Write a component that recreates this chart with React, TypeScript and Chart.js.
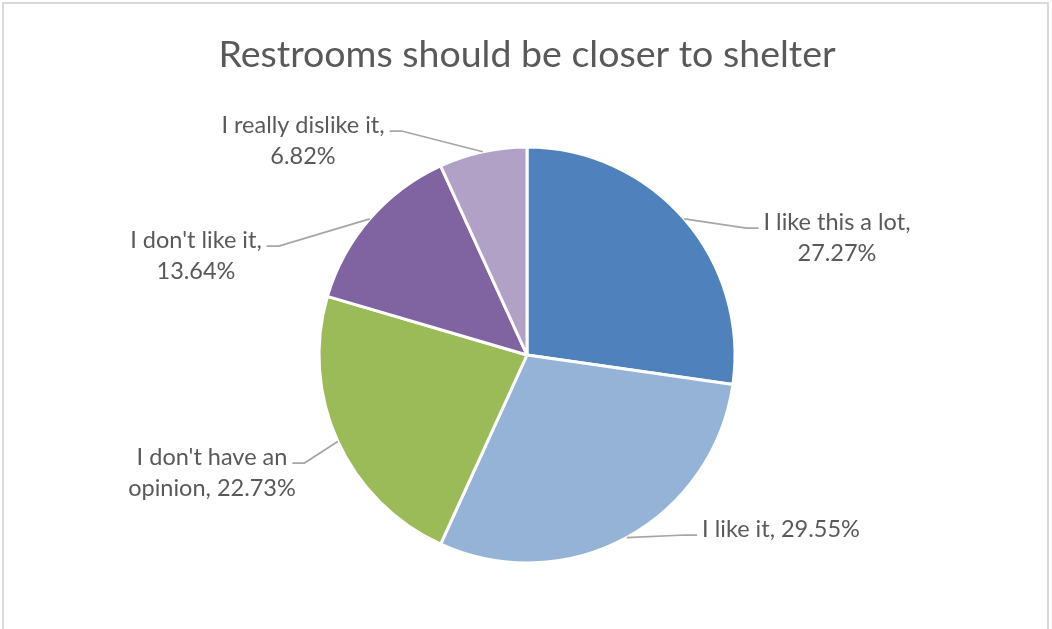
import React, { useEffect, useRef } from "react";
import { Chart, registerables } from "chart.js";

Chart.register(...registerables);

const TITLE = "Restrooms should be closer to shelter";
const CATEGORIES = [
  "I like this a lot",
  "I like it",
  "I don't have an opinion",
  "I don't like it",
  "I really dislike it",
];
const COUNTS = [12, 13, 10, 6, 3];
const COLORS = ["#4F81BD", "#95B3D7", "#9BBB59", "#8064A2", "#B2A1C7"];
// number of words on the first line of each data label
const FIRST_LINE_WORDS = [5, 99, 4, 4, 4];
// label block centre (first line) relative to pie centre
const LABEL_OFFSETS: [number, number][] = [
  [310, -133],
  [254, 174],
  [-315, 102],
  [-331, -115],
  [-224, -230],
];

const TEXT_COLOR = "#595959";
const LABEL_FONT = "23.5px Lato";
const TITLE_FONT = "37.5px Lato";

const total = COUNTS.reduce((a, b) => a + b, 0);
const labelLines = COUNTS.map((v, i) => {
  const pct = ((v / total) * 100).toFixed(2);
  const words = `${CATEGORIES[i]}, ${pct}%`.split(" ");
  const n = FIRST_LINE_WORDS[i];
  const first = words.slice(0, n).join(" ");
  const rest = words.slice(n).join(" ");
  return rest ? [first, rest] : [first];
});

const decorPlugin = {
  id: "decor",
  beforeDraw(chart: any) {
    const ctx = chart.ctx;
    ctx.save();
    ctx.fillStyle = "#FFFFFF";
    ctx.fillRect(0, 0, chart.width, chart.height);
    ctx.strokeStyle = "#D9D9D9";
    ctx.lineWidth = 2;
    ctx.strokeRect(3, 3, chart.width - 7, chart.height + 20);
    ctx.fillStyle = TEXT_COLOR;
    ctx.font = TITLE_FONT;
    ctx.textAlign = "center";
    ctx.textBaseline = "middle";
    ctx.fillText(TITLE, 527, 55);
    ctx.restore();
  },
  afterDatasetsDraw(chart: any) {
    const ctx = chart.ctx;
    const meta = chart.getDatasetMeta(0);
    ctx.save();
    ctx.font = LABEL_FONT;
    ctx.textBaseline = "middle";
    ctx.textAlign = "center";
    meta.data.forEach((arc: any, i: number) => {
      const { x, y, startAngle, endAngle, outerRadius } = arc.getProps(
        ["x", "y", "startAngle", "endAngle", "outerRadius"],
        true
      );
      const mid = (startAngle + endAngle) / 2;
      const ex = x + Math.cos(mid) * outerRadius;
      const ey = y + Math.sin(mid) * outerRadius;
      const [dx, dy] = LABEL_OFFSETS[i];
      const tx = x + dx;
      const ty = y + dy;
      const lines = labelLines[i];
      const w = ctx.measureText(lines[0]).width;
      const right = dx > 0;
      const endX = right ? tx - w / 2 - 5 : tx + w / 2 + 5;
      const elbowX = right ? endX - 12 : endX + 12;
      const ly = ty + 6;
      ctx.strokeStyle = "#A6A6A6";
      ctx.lineWidth = 1.75;
      ctx.beginPath();
      ctx.moveTo(ex, ey);
      ctx.lineTo(elbowX, ly);
      ctx.lineTo(endX, ly);
      ctx.stroke();
      ctx.fillStyle = TEXT_COLOR;
      lines.forEach((line: string, k: number) => {
        ctx.fillText(line, tx, ty + k * 31);
      });
    });
    ctx.restore();
  },
};

export default function App() {
  const ref = useRef<HTMLCanvasElement>(null);
  useEffect(() => {
    if (!ref.current) return;
    const chart = new Chart(ref.current, {
      type: "pie",
      data: {
        labels: CATEGORIES,
        datasets: [
          {
            data: COUNTS,
            backgroundColor: COLORS,
            borderColor: "#FFFFFF",
            borderWidth: 3,
            radius: 208,
          } as any,
        ],
      },
      options: {
        responsive: false,
        animation: false,
        devicePixelRatio: 1,
        layout: { padding: { left: 319, right: 317, top: 147, bottom: 66 } },
        plugins: {
          legend: { display: false },
          tooltip: { enabled: false },
          title: { display: false },
        },
      },
      plugins: [decorPlugin],
    });
    return () => chart.destroy();
  }, []);
  return (
    <div style={{ position: "fixed", left: 0, top: 0, width: 1052, height: 629 }}>
      <canvas ref={ref} width={1052} height={629} />
    </div>
  );
}
